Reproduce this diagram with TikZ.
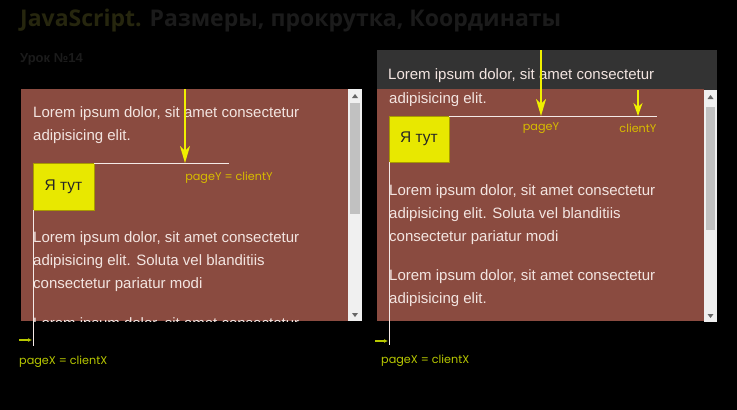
\documentclass[tikz,border=0pt]{standalone}
\usepackage{fontspec}
\setmainfont{Liberation Sans}
\newfontfamily\labelfont{Poppins}
\newfontfamily\titlefont{Open Sans}
\usetikzlibrary{arrows.meta,positioning,calc}
\definecolor{panelbrown}{HTML}{8A4B40}
\definecolor{bardark}{HTML}{333333}
\definecolor{loremtext}{HTML}{F3E5E1}
\definecolor{herefill}{HTML}{E8E800}
\definecolor{hereedge}{HTML}{A89A00}
\definecolor{arrowyel}{HTML}{F0F000}
\definecolor{labely}{HTML}{D8BC00}
\definecolor{labelx}{HTML}{B8C800}
\definecolor{track}{HTML}{F0F0F0}
\definecolor{thumb}{HTML}{C1C1C1}
\definecolor{titleolive}{HTML}{26260E}
\definecolor{titlegray}{HTML}{1B1B1B}

\begin{document}
\begin{tikzpicture}[x=1pt,y=-1pt,>=Latex]
  \tikzstyle{box}=[anchor=north west,inner sep=0pt,outer sep=0pt]
  \tikzstyle{lorem}=[anchor=base west,inner sep=0pt,text=loremtext,font=\fontsize{15}{18}\selectfont]
  \tikzstyle{here}=[box,draw=hereedge,fill=herefill,line width=0.8pt,font=\fontsize{15.5}{18}\selectfont,text=black!85]
  \tikzstyle{edge}=[draw=loremtext!80,line width=1pt]
  \tikzstyle{bigarrow}=[arrowyel,line width=2pt,-{Stealth[length=17pt,width=10pt,inset=5pt]}]
  \tikzstyle{smallarrow}=[labelx,line width=1.2pt,-{Latex[length=4pt,width=4pt]}]
  \tikzstyle{lab}=[inner sep=0pt,font=\labelfont\fontsize{11.2}{13}\selectfont]
  \useasboundingbox[fill=black] (0,0) rectangle (737,410);

  % title
  \node[anchor=base west,inner sep=0pt,font=\titlefont\fontsize{23}{26}\selectfont\bfseries] (title) at (20,26)
    {\textcolor{titleolive}{JavaScript.} \textcolor{titlegray}{Размеры, прокрутка, Координаты}};
  \node[anchor=base west,inner sep=0pt,text=titlegray,font=\fontsize{13}{15}\selectfont\bfseries] (lesson) at (20,62) {Урок №14};

  % left window: pageY = clientY
  \node[box,fill=panelbrown,minimum width=327,minimum height=232] (lpanel) at (21,89) {};
  \node[box,fill=track,minimum width=14,minimum height=232] (ltrack) at (348,89) {};
  \node[box,fill=thumb,minimum width=10,minimum height=111] (lthumb) at (350,103) {};
  \fill[black!60] (352,98) -- (358,98) -- (355,94) -- cycle;
  \fill[black!60] (352,313) -- (358,313) -- (355,317) -- cycle;
  \begin{scope}
    \clip (21,89) rectangle (348,321);
    \node[lorem] (l1) at (33,117) {Lorem ipsum dolor, sit amet consectetur};
    \node[lorem] (l2) at (33,140) {adipisicing elit.};
    \node[lorem] (l3) at (33,242) {Lorem ipsum dolor, sit amet consectetur};
    \node[lorem] (l4) at (33,265) {adipisicing elit. Soluta vel blanditiis};
    \node[lorem] (l5) at (33,288) {consectetur pariatur modi};
    \node[lorem] (l6) at (33,328) {Lorem ipsum dolor, sit amet consectetur};
  \end{scope}
  \node[here,minimum width=61,minimum height=47] (lhere) at (33,163) {Я тут};
  \coordinate (lyend) at (229,163);
  \coordinate (lxend) at (33,346);
  \draw[edge] (lhere.north east) -- (lyend);
  \draw[edge] (lhere.south west) -- (lxend);
  \coordinate (lytop) at (185,89);
  \coordinate (lytip) at (185,163);
  \draw[bigarrow] (lytop) -- (lytip);
  \node[lab,text=labely] (ly) at (229,178) {pageY = clientY};
  \coordinate (lxs) at (19,340);
  \coordinate (lxe) at (32,340);
  \draw[smallarrow] (lxs) -- (lxe);
  \node[lab,text=labelx,anchor=west] (lx) at (19,362) {pageX = clientX};

  % right window: scrolled, pageY <> clientY
  \node[box,fill=bardark,minimum width=340,minimum height=40] (rbar) at (377,50) {};
  \node[box,fill=panelbrown,minimum width=327,minimum height=232] (rpanel) at (377,89) {};
  \node[box,fill=track,minimum width=13,minimum height=232] (rtrack) at (704,90) {};
  \node[box,fill=thumb,minimum width=9,minimum height=123] (rthumb) at (706,107) {};
  \fill[black!60] (707.5,99) -- (713.5,99) -- (710.5,95) -- cycle;
  \fill[black!60] (707.5,314) -- (713.5,314) -- (710.5,318) -- cycle;
  \node[lorem] (r0) at (388,79) {Lorem ipsum dolor, sit amet consectetur};
  \begin{scope}
    \clip (377,89) rectangle (704,105);
    \node[lorem] (r1) at (389,103) {adipisicing elit.};
  \end{scope}
  \node[lorem] (r2) at (389,195) {Lorem ipsum dolor, sit amet consectetur};
  \node[lorem] (r3) at (389,218) {adipisicing elit. Soluta vel blanditiis};
  \node[lorem] (r4) at (389,241) {consectetur pariatur modi};
  \node[lorem] (r5) at (389,280) {Lorem ipsum dolor, sit amet consectetur};
  \node[lorem] (r6) at (389,303) {adipisicing elit.};
  \node[here,minimum width=60,minimum height=46] (rhere) at (389,116) {Я тут};
  \coordinate (ryend) at (657,116);
  \coordinate (rxend) at (389,345);
  \draw[edge] (rhere.north east) -- (ryend);
  \draw[edge] (rhere.south west) -- (rxend);
  \coordinate (rptop) at (541,50);
  \coordinate (rptip) at (541,116);
  \coordinate (rctop) at (638,90);
  \coordinate (rctip) at (638,116);
  \draw[bigarrow] (rptop) -- (rptip);
  \draw[bigarrow,-{Stealth[length=13pt,width=9pt,inset=4pt]}] (rctop) -- (rctip);
  \node[lab,text=labely] (rpy) at (541,128) {pageY};
  \node[lab,text=labely] (rcy) at (638,128) {clientY};
  \coordinate (rxs) at (375,341);
  \coordinate (rxe) at (388,341);
  \draw[smallarrow] (rxs) -- (rxe);
  \node[lab,text=labelx,anchor=west] (rx) at (381,361) {pageX = clientX};
\end{tikzpicture}
\end{document}
